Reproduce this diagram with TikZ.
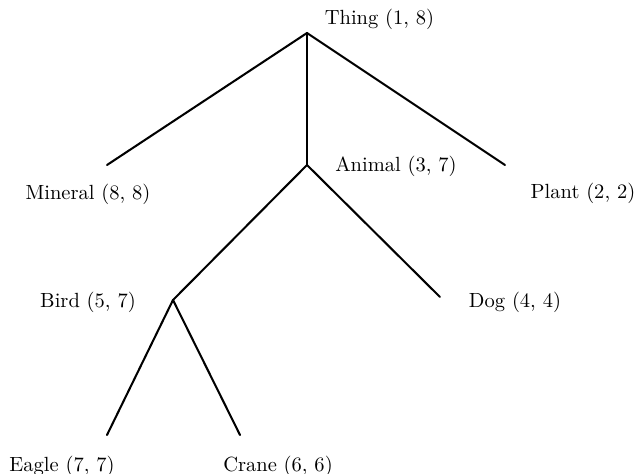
\documentclass[tikz,border=0pt]{standalone}
\begin{document}
\begin{tikzpicture}[x=0.4875pt,y=-0.4875pt,
  lab/.style={inner sep=0pt,font=\fontsize{10}{12}\selectfont},
  edge/.style={line width=1pt,line cap=round,line join=round}]
\useasboundingbox (0,0) rectangle (639,474);
% vertices
\coordinate (t) at (307,33);
\coordinate (m) at (107,165);
\coordinate (p) at (505,165);
\coordinate (a) at (307,165);
\coordinate (b) at (173,300);
\coordinate (d) at (440,297);
\coordinate (e) at (107,435);
\coordinate (c) at (240,435);
% labels
\node[lab] (tl) at (379.5,19) {Thing (1, 8)};
\node[lab] (ml) at (88,194) {Mineral (8, 8)};
\node[lab] (pl) at (583,193) {Plant (2, 2)};
\node[lab] (al) at (396,166) {Animal (3, 7)};
\node[lab] (bl) at (88,302) {Bird (5, 7)};
\node[lab] (dl) at (515,302) {Dog (4, 4)};
\node[lab] (el) at (62,466) {Eagle (7, 7)};
\node[lab] (cl) at (278,466) {Crane (6, 6)};
% edges
\draw[edge] (t) -- (m);
\draw[edge] (t) -- (p);
\draw[edge] (t) -- (a);
\draw[edge] (a) -- (b);
\draw[edge] (a) -- (d);
\draw[edge] (b) -- (e);
\draw[edge] (b) -- (c);
\end{tikzpicture}
\end{document}
